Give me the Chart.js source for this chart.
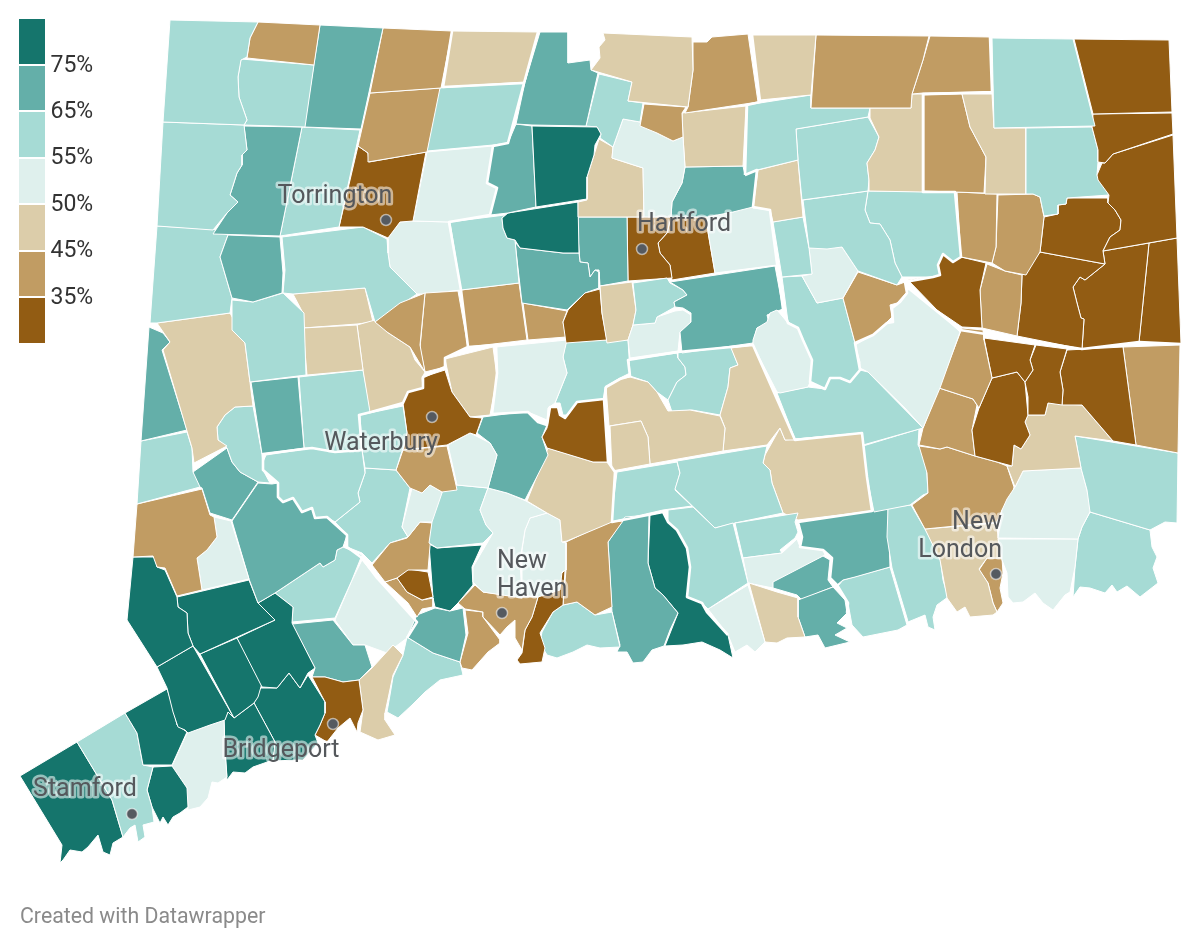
<!DOCTYPE html>
<html><head><meta charset="utf-8">
<style>
html,body{margin:0;padding:0;background:#fff}
#wrap{position:relative;width:1200px;height:948px;overflow:hidden}
canvas{position:absolute;left:0;top:0}
.sw{position:absolute;left:19px;width:26px}
.lb{position:absolute;left:50.5px;font:23px Roboto,sans-serif;color:#333;line-height:26px}
#foot{position:absolute;left:20px;top:904px;font:21.3px Roboto,sans-serif;color:#8a8a8a;line-height:24px}
</style></head><body>
<div id="wrap"><canvas id="c" width="1200" height="948"></canvas><div id="legend"></div><div id="foot">Created with Datawrapper</div></div>
<script src="https://cdn.jsdelivr.net/npm/chart.js@4"></script>
<script>
// legend classes (highest first)
const legendTicks = ['75%','65%','55%','50%','45%','35%'];
const classFloors = [75,65,55,50,45,35,0];
const classColors = ['#15756c','#64afa9','#a6dbd5','#dff0ed','#dccdaa','#c19c63','#925c13'];

// estimated share per town, same order as townOutlines
const townValues = [
60,40,60,70,40,40,60,70,60,30,
52,47,60,70,47,40,47,40,40,60,
30,30,30,60,47,40,47,60,60,47,
60,60,40,40,30,30,40,30,30,30,
80,70,60,40,52,47,47,70,52,60,
52,40,60,52,70,60,52,47,30,80,
60,70,70,30,30,40,40,40,40,60,
70,60,60,47,70,60,47,47,70,60,
60,70,40,52,70,60,60,30,40,52,
47,52,60,30,70,47,52,52,60,52,
40,30,40,80,70,40,40,30,40,60,
70,80,60,52,47,70,70,52,60,60,
60,47,47,47,60,60,47,60,52,40,
30,30,30,40,30,40,47,60,52,52,
60,40,60,47,40,60,70,60,80,80,
80,80,80,80,60,80,80,52,80,80,
30,47,60,70,60,52,60,52,47];

const townOutlines = [
"170,20 258,22 250,38 247,57 241,60 238,77 239,97 247,120 244,125 163,122",
"258,22 320,25 314,65 247,58 250,38",
"241,59 314,65 305,127 244,125 247,120 239,97 238,77",
"320,25 383,28 361,129 304,127",
"383,28 452,31 441,88 370,93",
"370,93 440,88 427,152 368,162 368,153 358,146",
"163,122 244,125 247,150 242,155 242,165 237,173 230,195 238,202 227,213 213,230 157,226",
"244,126 302,127 280,236 213,234 227,213 238,202 230,195 237,173 242,165 242,155 247,150",
"302,127 360,130 339,227 280,236",
"358,146 368,153 369,162 426,152 413,221 400,222 388,238 363,227 339,227",
"427,152 493,146 487,183 497,188 490,215 449,222 413,221",
"452,31 538,32 525,82 443,87",
"438,88 524,83 508,143 493,145 427,151",
"540,32 568,32 568,63 590,60 591,70 598,73 586,126 532,125 516,124 525,82",
"603,33 692,37 693,70 688,107 628,101 632,82 591,70 600,58 599,47 605,40",
"693,42 707,42 712,37 748,34 758,102 685,113 688,107 693,70",
"752,35 816,35 811,95 760,100",
"816,35 929,36 923,60 912,94 911,108 811,108",
"930,36 990,37 992,92 923,93 912,94 923,60",
"992,38 1073,39 1095,126 994,128",
"1074,39 1169,40 1172,112 1093,114",
"1093,114 1172,113 1173,134 1113,154 1105,163 1098,162 1098,150 1092,127",
"1173,135 1177,238 1103,251 1110,237 1120,230 1121,220 1115,210 1108,203 1109,195 1098,180 1097,175 1102,163 1105,163 1113,154",
"1026,128 1092,127 1098,150 1098,162 1097,175 1109,195 1067,198 1066,204 1058,205 1058,214 1044,216 1040,197 1033,194 1026,194",
"962,94 992,94 994,128 1026,128 1026,194 985,194 986,157 970,127",
"924,95 962,94 970,127 986,157 984,193 924,191",
"912,94 923,94 923,192 869,191 869,180 867,163 875,150 879,137 870,118 870,108 911,108",
"747,105 811,95 811,108 870,108 868,117 796,129 798,160 757,170 745,175",
"796,129 868,117 879,137 875,150 867,163 869,180 868,191 802,200 798,160",
"758,170 798,160 803,217 773,222 770,210 753,208",
"803,200 868,191 865,210 870,223 880,224 890,240 895,263 902,277 897,285 858,271 842,247 827,249 809,248",
"868,191 955,192 961,257 953,262 943,254 938,265 940,275 933,277 902,277 895,263 890,240 880,224 870,223 865,210",
"957,192 997,194 996,247 992,263 961,257",
"998,195 1033,194 1040,197 1044,217 1040,252 1026,275 1005,271 992,263 996,247",
"1044,217 1058,214 1058,205 1066,204 1067,198 1108,198 1108,203 1115,210 1121,220 1120,230 1110,237 1103,251 1105,264 1040,252",
"908,280 940,275 938,265 943,254 953,262 961,257 986,263 980,290 982,328 962,327 937,310",
"987,264 1005,271 1022,275 1021,303 1017,336 982,328 980,290",
"1022,275 1040,252 1105,264 1095,272 1085,280 1080,277 1073,287 1077,303 1081,318 1084,319 1082,349 1017,336 1021,303",
"1105,264 1103,251 1149,243 1139,342 1082,349 1084,319 1081,318 1077,303 1073,287 1080,277 1085,280 1095,272",
"1149,243 1177,238 1181,344 1139,342",
"532,126 597,127 601,134 595,145 594,155 587,177 587,199 536,207",
"516,124 532,126 536,207 508,213 490,215 497,188 487,183 493,146 508,143",
"599,74 632,82 628,101 643,103 640,122 623,119 613,147 600,138 601,134 597,127 586,126",
"644,104 686,107 682,113 683,137 673,141 657,133 640,126",
"623,119 640,122 657,133 673,141 683,137 685,167 682,183 672,202 671,217 644,217 643,168 612,158 613,147",
"599,139 613,147 612,158 643,168 644,217 578,217 578,202 587,200 587,177 594,155",
"682,113 746,106 743,166 685,167 683,137",
"685,167 743,166 745,175 757,170 753,207 733,212 707,217 671,217 672,202 682,183",
"752,205 770,210 777,265 715,273 708,232 707,217 733,212",
"773,222 803,217 809,248 812,274 782,277",
"809,248 842,247 858,271 843,298 817,303 802,276 812,274",
"858,272 897,285 905,282 907,292 897,303 890,305 892,317 887,322 873,335 855,343 843,298",
"782,277 802,276 817,303 843,298 855,343 860,370 850,382 840,378 830,378 825,389 810,382 812,360 803,340 798,328 788,322",
"777,310 788,323 798,328 803,340 812,360 810,382 808,387 780,393 777,392 753,345 753,340 757,328 767,322 770,313",
"670,282 775,266 783,309 767,315 769,323 757,328 753,343 682,353 680,332 691,322 691,313 683,308 675,307 674,302 687,295 683,290",
"633,283 667,278 670,283 683,290 687,295 674,302 675,307 657,317 655,323 633,325 636,310",
"633,325 655,323 657,317 675,311 683,310 691,315 691,322 680,332 678,351 630,358 628,340",
"600,286 632,282 636,310 633,325 628,340 607,343 602,313",
"600,289 602,313 607,340 566,343 563,322 568,310 585,293",
"508,213 578,202 579,253 563,253 520,248 515,240 507,238 503,228 502,218",
"450,222 505,215 502,218 503,228 507,238 515,240 519,283 461,290",
"515,242 520,248 563,253 579,253 580,262 588,263 590,277 595,270 599,272 599,288 585,293 567,310 522,303",
"578,217 627,217 628,281 600,286 599,270 595,270 590,277 588,263 580,262 578,237",
"627,217 671,217 667,233 658,243 660,253 670,265 672,278 628,281",
"671,217 707,217 708,232 715,273 672,280 670,265 660,253 658,243 667,233",
"461,290 519,283 527,340 468,347",
"523,303 567,311 563,322 566,337 528,340",
"425,293 420,345 425,372 410,347 387,332 375,322 400,303",
"425,293 458,291 468,347 445,358 445,367 425,372 420,348",
"282,237 363,227 387,239 388,253 390,267 400,277 417,294 375,322 365,288 293,294 283,293 285,270",
"228,235 280,237 283,273 282,293 253,302 232,298 220,257",
"157,226 213,229 228,235 220,257 232,298 230,313 157,323 150,323",
"232,300 253,302 283,293 304,313 306,375 250,382 245,343 232,330",
"157,323 230,313 243,337 245,343 253,406 235,407 225,415 217,427 218,440 227,446 194,463 192,448 163,350 170,342",
"149,327 163,333 170,342 162,350 187,430 141,441",
"141,441 187,432 192,448 193,472 200,487 137,504",
"303,328 357,325 363,370 307,375",
"357,325 375,320 387,332 410,347 415,360 425,372 422,378 423,388 408,392 403,403 370,412 363,370",
"251,382 298,377 304,448 262,454",
"299,377 363,370 371,412 359,415 362,450 335,452 312,448 304,448",
"217,427 225,415 235,407 253,406 262,454 263,462 263,470 270,483 258,482 240,472 232,462 227,448 218,440",
"227,448 232,462 240,472 258,482 232,520 210,513 202,488 195,485 193,472",
"202,489 210,515 214,517 217,537 207,550 197,558 202,590 177,596 165,568 157,567 153,556 133,557 137,504",
"214,517 231,521 249,579 202,590 197,558 207,550 217,537",
"232,521 258,483 272,484 278,483 278,497 283,502 293,498 302,512 312,508 315,518 327,517 347,535 343,547 337,550 335,560 323,567 320,563 275,593 258,603 249,579",
"266,455 312,448 335,452 362,450 365,473 358,493 360,502 335,522 327,517 315,518 312,508 302,512 293,498 283,502 278,497 278,483 263,470 263,462",
"360,415 403,406 407,433 403,448 396,470 365,468 362,450",
"403,403 408,392 423,388 423,377 445,370 452,392 470,417 482,418 476,435 470,433 447,445 403,450 407,433",
"403,450 447,446 456,485 457,490 442,492 430,485 422,493 410,488 396,470",
"448,445 470,433 490,443 497,455 488,488 457,485",
"445,359 493,347 497,377 490,415 470,417 452,392",
"496,347 567,340 563,357 567,373 555,403 548,408 547,420 528,412 492,414 497,373",
"566,340 628,340 630,373 620,378 605,387 604,399 577,402 568,415 563,415 560,403 555,403 567,373 563,357",
"604,399 608,462 593,462 547,448 542,437 547,428 550,407 558,407 560,415 565,418 577,402",
"477,433 483,417 528,411 538,422 547,425 542,437 548,455 525,500 507,493 488,488 497,455 490,443",
"548,448 593,462 608,462 615,472 612,522 567,541 562,542 560,520 547,513 527,501",
"488,488 507,493 526,501 547,513 530,518 525,530 520,560 522,598 483,592 473,582 473,567 493,533 486,525 480,510",
"547,513 560,520 562,542 566,543 566,570 562,572 560,590 538,597 522,595 522,550 525,530 530,518",
"443,490 457,485 488,488 480,510 486,525 493,533 483,543 437,548 429,543 432,522",
"422,493 430,485 442,492 443,523 432,522 420,522 408,537 402,527 412,488",
"420,522 432,523 428,570 408,570 397,578 385,582 372,565 390,543 407,538",
"397,578 408,569 428,572 433,597 422,600 407,592",
"385,582 397,578 407,592 422,600 433,598 433,607 422,609 417,617 408,603",
"429,544 437,548 482,545 472,567 473,585 458,603 450,611 435,607 433,598",
"417,615 435,608 450,611 463,608 466,635 460,662 433,653 407,637",
"458,603 475,585 483,592 520,597 538,597 532,617 525,630 522,650 515,638 515,620 507,627 500,635 483,617 483,612 465,609",
"465,610 483,612 483,617 500,640 500,643 488,652 472,670 462,668 460,662 468,633",
"538,597 565,570 563,605 553,612 540,633 545,648 542,662 520,664 517,660 522,653 525,630 532,617",
"566,542 608,522 623,521 608,542 612,607 595,615 577,602 563,605 566,570",
"563,605 577,602 595,615 612,612 620,647 600,648 587,645 573,652 557,658 547,655 540,643 542,632 553,612",
"625,517 649,515 648,563 655,588 663,595 678,613 670,630 664,646 652,650 643,662 633,663 627,652 617,652 620,645 612,612 608,542",
"650,515 663,512 668,522 677,530 687,548 690,567 687,597 702,603 707,612 728,635 733,658 720,650 702,642 683,645 665,646 678,613 663,595 655,588 648,563",
"668,510 693,507 715,528 733,523 748,583 708,609 702,603 687,597 690,567 687,548 677,530 668,522",
"708,609 748,585 765,642 755,652 747,645 735,652 728,635",
"749,583 777,592 798,598 798,617 805,637 787,638 777,643 765,642",
"798,600 833,587 845,600 847,613 837,623 847,628 835,635 850,642 825,648 818,635 805,637 798,617",
"773,582 823,556 830,560 828,580 833,587 820,592 802,600 797,595 773,588",
"782,553 797,539 800,547 823,550 825,555 780,580 773,588 748,583 743,558",
"735,523 798,513 795,522 798,532 795,538 780,550 782,553 743,558",
"677,461 767,446 763,463 770,470 772,483 783,513 735,523 715,528 675,489 680,473",
"617,472 677,462 680,473 675,490 692,506 663,510 611,522",
"610,426 641,421 648,437 650,464 612,471",
"606,387 620,379 630,377 648,382 657,392 668,411 690,410 720,416 725,428 723,451 650,464 648,437 641,421 609,426",
"738,365 730,368 728,387 720,415 725,428 723,451 767,445 780,428 785,440 795,440 753,345 731,348",
"678,352 731,347 738,365 730,368 728,387 720,415 692,410 672,412 668,400 677,382 686,375 685,367 678,358",
"628,360 677,353 678,358 685,367 686,375 677,382 668,400 657,392 648,382 630,376",
"780,428 785,440 795,439 862,433 867,477 872,511 798,520 783,513 772,483 770,470 763,463 765,455",
"777,393 808,387 825,389 830,378 840,378 850,382 860,370 868,372 923,428 863,445 862,433 795,439",
"855,345 873,335 887,323 893,322 892,308 900,302 907,293 909,287 937,310 960,332 940,388 923,428 905,408 868,372 860,368 860,362",
"962,328 983,330 984,340 992,378 979,408 973,399 939,388",
"984,338 1035,345 1030,360 1033,370 1025,382 1017,372 992,378",
"1036,345 1067,349 1060,372 1063,390 1062,405 1048,403 1045,415 1028,415 1028,397 1025,382 1033,370 1030,360",
"1067,350 1123,347 1136,445 1113,441 1082,405 1062,405 1063,390 1060,372",
"1123,347 1180,345 1178,453 1136,445",
"992,378 1017,372 1025,382 1028,415 1025,422 1030,435 1021,449 1014,445 1012,466 997,462 975,456 972,430 979,408",
"939,388 973,399 977,405 972,430 975,456 947,447 940,449 919,445 923,428",
"1028,415 1045,415 1048,403 1082,405 1113,441 1075,436 1081,468 1023,471 1015,487 1007,466 1012,466 1014,445 1021,449 1030,435 1025,422",
"1075,436 1178,453 1177,523 1165,522 1150,530 1090,512 1087,490 1081,468",
"1023,471 1081,468 1087,490 1091,510 1082,527 1078,539 998,538 1002,510 1007,499 1015,487",
"998,539 1078,539 1075,567 1070,592 1065,595 1053,610 1043,603 1035,593 1023,602 1013,603 1008,597 1007,573 1002,560",
"1090,512 1150,530 1152,547 1157,557 1153,568 1158,583 1140,597 1127,586 1117,592 1112,585 1105,593 1090,588 1080,587 1073,597 1075,567 1078,539 1082,527",
"919,446 940,449 947,447 975,456 997,462 1007,466 1014,487 1012,497 1002,510 997,522 925,529 912,505 928,493 927,473",
"863,446 919,429 918,445 926,458 928,493 923,495 910,505 874,512 867,477",
"925,529 997,523 998,538 1002,558 987,558 979,569 988,583 993,603 997,612 993,615 970,617 965,607 957,612 947,598 940,560",
"987,558 1002,558 1003,573 1000,588 1003,603 997,612 993,603 988,583 979,570",
"888,508 911,505 925,529 940,557 943,580 948,597 937,605 933,617 935,630 928,627 925,615 908,622 907,618 892,568 887,537",
"798,522 888,508 890,567 855,577 843,580 837,585 830,578 832,558 823,550 800,547 802,537",
"838,586 843,580 890,567 907,625 898,630 863,637 852,625 848,603",
"133,557 155,557 157,567 165,570 177,597 178,607 187,613 188,633 193,646 157,667 127,620",
"177,597 249,580 258,603 275,620 200,654 193,646 188,633 187,613 178,607",
"258,603 275,593 293,607 292,623 315,668 308,673 300,688 289,673 277,688 262,687 237,638 275,620",
"200,654 237,638 263,680 258,697 254,703 234,718",
"157,667 193,646 234,718 228,712 225,720 210,725 188,733 185,730 178,727 173,712 167,688",
"125,713 167,689 173,707 177,725 187,732 172,765 143,765 137,733",
"77,742 125,713 137,733 143,765 153,767 147,790 152,807 154,822 143,825 145,837 138,842 135,825 130,828 123,837 112,800",
"20,776 77,742 112,800 123,837 113,843 110,855 103,852 98,835 88,847 82,852 70,850 63,860 60,863 62,845",
"153,767 172,766 187,788 188,807 180,813 173,817 168,825 163,817 160,823 152,807 147,790",
"172,766 187,733 210,725 224,720 225,750 227,777 218,783 212,782 208,798 200,807 188,810 187,788",
"228,712 234,718 254,703 275,742 273,760 253,767 245,773 233,772 227,780 225,750 224,720",
"254,703 260,688 277,688 289,673 300,688 308,675 325,702 325,713 320,725 315,735 318,743 303,760 297,760 273,761 275,742",
"312,677 325,677 343,682 359,680 363,710 358,723 357,732 350,718 338,728 327,742 315,735 320,725 325,713 325,702",
"359,680 372,668 393,645 403,655 393,675 385,713 385,720 395,735 378,740 360,732 363,710",
"393,677 403,655 407,637 433,653 460,662 463,675 440,680 425,692 412,705 398,718 387,712 390,695",
"292,624 333,620 353,645 365,645 372,667 359,680 343,682 325,677 312,677 315,668",
"275,593 320,563 323,567 335,560 337,550 343,547 362,555 352,580 335,618 292,622 293,607",
"362,560 377,578 417,622 407,638 387,653 365,645 353,645 335,620 352,580",
"335,522 360,502 358,493 365,473 365,468 396,470 410,488 402,527 408,537 390,543 372,563 362,553 347,547 347,535",
"400,222 413,221 449,222 461,290 425,294 417,294 400,277 390,267 388,253 388,238",
"293,294 365,288 373,322 357,324 303,328 303,313"
];

// thicker county boundaries
const countyLines = [
"452,31 443,87 524,83 538,32",
"524,83 508,143 493,146 487,183 497,188 490,215 449,222 461,290 468,347 445,358 445,367 423,377 423,388 408,392 403,403 371,412 359,415 362,450 335,452 312,448 263,454 263,470 278,483 278,497 283,502 293,498 302,512 312,508 315,518 327,517 347,535 347,547 362,558 377,578 417,622 407,638",
"468,347 496,345 497,373 492,414 528,412 538,422 547,425 550,407 558,407 560,415 565,418 577,402 604,399 606,387 620,379 630,376 628,360 678,352 731,347 753,345 795,440 862,433 867,477 872,511 798,522 802,537 800,547 823,550 832,558 830,578 837,585 848,603 847,613",
"604,399 608,462 615,472 612,522 663,512 668,522 677,530 687,548 690,567 687,597 702,603 707,612 728,635",
"745,175 747,105 760,102 752,35",
"745,175 757,170 753,207 770,210 783,309 788,323 798,328 803,340 812,360 810,382 825,389 830,378 840,378 850,382 860,370 855,343 873,335 887,323 893,322 892,308 900,302 907,293 905,282 933,277 940,275 938,265 943,254 953,262 961,257 955,192 923,192 923,94 992,92 990,37",
"907,287 960,330 1082,349 1139,342 1181,344"
];

// city markers and their labels
const cityNames = [['Torrington'],['Hartford'],['Waterbury'],['New','Haven'],['New','London'],['Bridgeport'],['Stamford']];
const cityDots = [[386,220],[642,249],[432,417],[502,613],[996,574],[333,724],[132,814]];
const cityLabelAnchors = [[335,197,'center'],[684,225,'center'],[381,444,'center'],[497,562,'left'],[1002,523,'right'],[281,751,'center'],[85,790,'center']];

const toPts = s => s.trim().split(/\s+/).map(p => { const [x,y] = p.split(',').map(Number); return {x,y}; });
const colorFor = v => classColors[classFloors.findIndex(f => v >= f)];

const townDatasets = townOutlines.map((s,i) => {
  const pts = toPts(s); pts.push(pts[0]);
  const col = colorFor(townValues[i]);
  return {label:'town '+(i+1), data:pts, showLine:true, fill:'shape', backgroundColor:col,
          borderColor:'#ffffff', borderWidth:1, pointRadius:0, tension:0};
});
const countyDatasets = countyLines.map((s,i) => ({label:'county '+(i+1), data:toPts(s), showLine:true, fill:false,
  borderColor:'#ffffff', borderWidth:2.6, pointRadius:0, tension:0, borderJoinStyle:'round'}));
const dotDataset = {label:'cities', data:cityDots.map(([x,y])=>({x,y})), showLine:false,
  pointRadius:5.5, pointBackgroundColor:'#555a60', pointBorderColor:'rgba(255,255,255,.55)', pointBorderWidth:1.5};

const cityLabelPlugin = {
  id:'cityLabels',
  afterDatasetsDraw(chart){
    const {ctx,scales:{x,y}} = chart;
    ctx.save();
    ctx.font = '400 25px Roboto, sans-serif';
    ctx.textBaseline = 'middle';
    ctx.lineJoin = 'round';
    cityNames.forEach((lines,i) => {
      const [ax,ay,al] = cityLabelAnchors[i];
      ctx.textAlign = al;
      lines.forEach((t,k) => {
        const px = x.getPixelForValue(ax), py = y.getPixelForValue(ay + k*27.5);
        ctx.lineWidth = 5; ctx.strokeStyle = 'rgba(255,255,255,.55)';
        ctx.strokeText(t,px,py);
        ctx.fillStyle = '#55585c';
        ctx.fillText(t,px,py);
      });
    });
    ctx.restore();
  }
};

new Chart(document.getElementById('c'), {
  type:'scatter',
  data:{datasets:[dotDataset, ...countyDatasets, ...townDatasets]},
  options:{
    responsive:false, animation:false, devicePixelRatio:1,
    layout:{padding:0, autoPadding:false},
    plugins:{legend:{display:false}, tooltip:{enabled:false}},
    scales:{
      x:{type:'linear',min:0,max:1200,display:false},
      y:{type:'linear',min:0,max:948,reverse:true,display:false}
    }
  },
  plugins:[cityLabelPlugin]
});

// legend
const L = document.getElementById('legend');
const swTop = [19,65.5,112,158.5,205,251.5,298];
classColors.forEach((c,i) => {
  const d = document.createElement('div'); d.className='sw';
  d.style.top = swTop[i]+'px'; d.style.height='44.5px'; d.style.background=c; L.appendChild(d);
});
legendTicks.forEach((t,i) => {
  const d = document.createElement('div'); d.className='lb';
  d.style.top = (51.5+46.4*i)+'px'; d.textContent=t; L.appendChild(d);
});
</script>
</body></html>
